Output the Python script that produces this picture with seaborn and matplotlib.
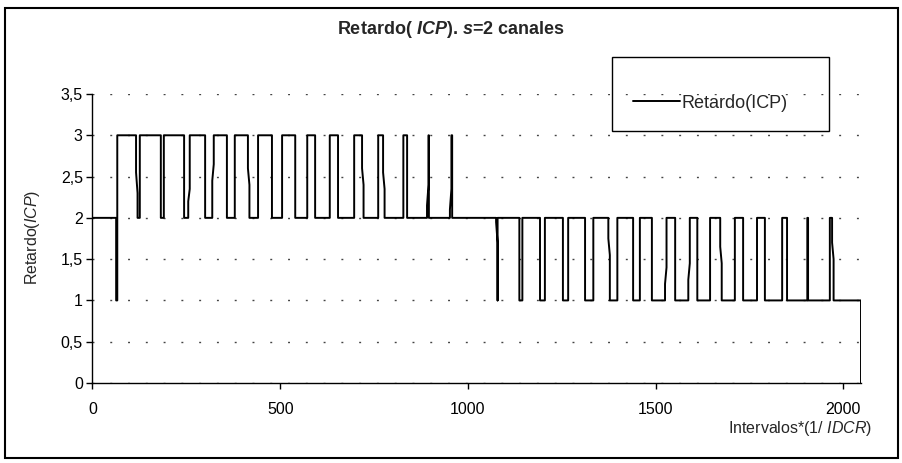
import numpy as np
import pandas as pd
import matplotlib
matplotlib.use("Agg")
import matplotlib.pyplot as plt
import seaborn as sns
from matplotlib.patches import Rectangle

# plateaus at 3 (first half)
high_start = [66, 126, 190, 255, 319, 379, 441, 505, 572, 632, 697, 761, 828, 891, 952]
high_end = [116, 182, 244, 300, 358, 414, 478, 540, 593, 654, 718, 774, 838, 896, 958]
# plateaus at 1 (second half)
low_start = [1075, 1137, 1192, 1253, 1312, 1374, 1440, 1490, 1552, 1611, 1672, 1733, 1791, 1850, 1906, 1970]
low_end = [1079, 1145, 1205, 1267, 1334, 1398, 1458, 1525, 1587, 1645, 1711, 1770, 1837, 1904, 1964, 2047]
# slanted edges: edge x -> (value where slant starts, value where it ends)
slants = {116: (2.55, 2.3), 255: (2.2, 2.35), 319: (2.45, 2.65), 414: (2.6, 2.4),
          718: (2.6, 2.4), 774: (2.55, 2.35), 891: (2.15, 2.4), 952: (2.1, 2.35),
          1075: (1.95, 1.7), 1374: (1.75, 1.55), 1525: (1.2, 1.4), 1587: (1.25, 1.45),
          1672: (1.65, 1.45), 1970: (1.7, 1.5)}
spike_x = 63

yticks = [0, 0.5, 1, 1.5, 2, 2.5, 3, 3.5]
ytick_labels = ["0", "0,5", "1", "1,5", "2", "2,5", "3", "3,5"]
xticks = [0, 500, 1000, 1500, 2000]
xtick_labels = ["0", "500", "1000", "1500", "2000"]


def edge(x, y0, y1):
    if x in slants:
        a, b = slants[x]
        return [(x, y0), (x, a), (x + 4, b), (x + 4, y1)]
    return [(x, y0), (x, y1)]


# build the step path
pts = [(0, 2), (spike_x, 2), (spike_x, 1)]
prev = 1
for s, e in zip(high_start, high_end):
    pts += edge(s, prev, 3)
    pts += edge(e, 3, 2)
    prev = 2
for s, e in zip(low_start, low_end):
    pts += edge(s, 2, 1)
    pts += edge(e, 1, 2 if e != low_end[-1] else 0)
df = pd.DataFrame(pts, columns=["x", "y"])

sns.set_theme(style="white")
plt.rcParams["font.family"] = ["Liberation Sans", "DejaVu Sans"]
plt.rcParams["mathtext.fontset"] = "custom"
plt.rcParams["mathtext.rm"] = "Liberation Sans"
plt.rcParams["mathtext.it"] = "Liberation Sans:italic"
plt.rcParams["mathtext.bf"] = "Liberation Sans:bold:italic"

W, H = 903, 463
fig = plt.figure(figsize=(W / 100, H / 100), dpi=100)
ax = fig.add_axes([92.5 / W, 1 - 383 / H, (861 - 92.5) / W, (383 - 94) / H])

sns.lineplot(data=df, x="x", y="y", sort=False, estimator=None, color="black",
             lw=1.4, ax=ax, legend=False)

ax.set_xlim(0, 2047)
ax.set_ylim(0, 3.5)
ax.set_xticks(xticks, xtick_labels)
ax.set_yticks(yticks, ytick_labels)
ax.set_xlabel("")
ax.set_ylabel("")
ax.grid(axis="y", color="#444444", linestyle=(0, (1.4, 11.4)), lw=1)
ax.tick_params(bottom=True, left=True, direction="out", length=4, width=1,
               color="black", labelsize=11.5, labelcolor="black", pad=3)
ax.tick_params(axis="x", pad=9.5)
for side in ["top", "right"]:
    ax.spines[side].set_visible(False)
for side in ["left", "bottom"]:
    ax.spines[side].set_color("black")
    ax.spines[side].set_linewidth(1)

fig.text(451 / W, 1 - 30 / H, r"Retardo( $\mathbf{ICP}$). $\mathbf{s}$=2 canales",
         ha="center", va="center", fontsize=13, fontweight="bold")
fig.text(33 / W, 1 - 237 / H, r"Retardo($\mathit{ICP}$)", rotation=90,
         ha="center", va="center", fontsize=11.5)
fig.text(872 / W, 1 - 428 / H, r"Intervalos*(1/ $\mathit{IDCR}$)",
         ha="right", va="center", fontsize=11.5)

# legend box
fig.patches.append(Rectangle((612 / W, 1 - 131 / H), (829 - 612) / W, (131 - 57) / H,
                             transform=fig.transFigure, fill=False, ec="black", lw=1))
fig.legend(handles=[ax.get_lines()[0]], labels=["Retardo(ICP)"], loc="center left",
           bbox_to_anchor=(633 / W, 1 - 103 / H), frameon=False, fontsize=13,
           handlelength=2.6, handletextpad=0.1, borderpad=0, borderaxespad=0)

# outer chart border
fig.patches.append(Rectangle((5 / W, 1 - 458 / H), (898 - 5) / W, (458 - 8) / H,
                             transform=fig.transFigure, fill=False, ec="black", lw=1.5))

fig.savefig("out.png", dpi=100)
